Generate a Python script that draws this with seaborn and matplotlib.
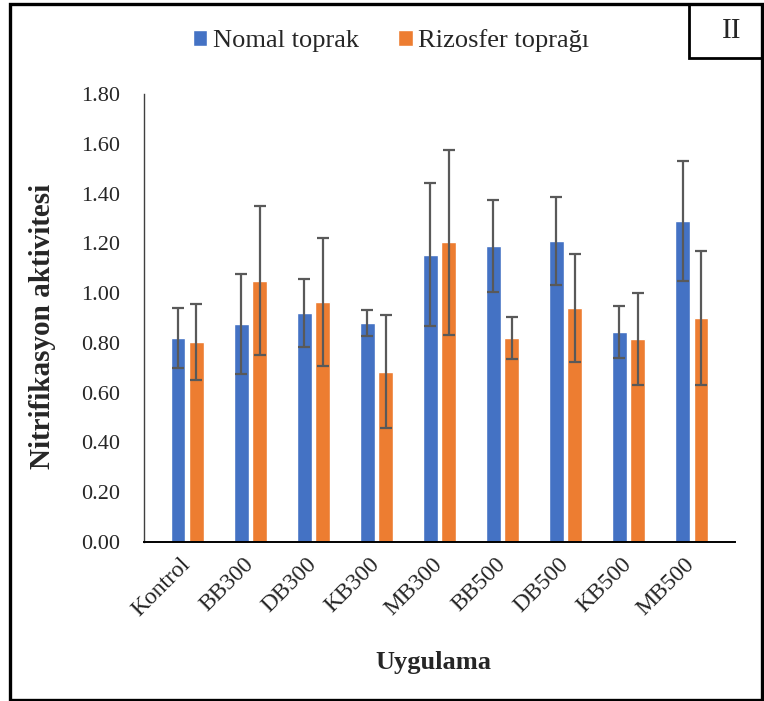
import matplotlib
matplotlib.use("Agg")
import matplotlib.pyplot as plt
from matplotlib.patches import Rectangle
from matplotlib.ticker import FormatStrFormatter
import pandas as pd
import seaborn as sns

# Treatments and soil types
uygulama = ["Kontrol", "BB300", "DB300", "KB300", "MB300",
            "BB500", "DB500", "KB500", "MB500"]
toprak = ["Nomal toprak", "Rizosfer toprağı"]

# Mean nitrification activity per treatment
nomal_mean = [0.82, 0.875, 0.92, 0.88, 1.155, 1.19, 1.21, 0.845, 1.29]
rizo_mean = [0.805, 1.05, 0.965, 0.685, 1.205, 0.82, 0.94, 0.815, 0.90]

# Standard deviations
nomal_sd = [0.12, 0.20, 0.135, 0.052, 0.287, 0.184, 0.177, 0.105, 0.24]
rizo_sd = [0.153, 0.30, 0.257, 0.227, 0.372, 0.085, 0.218, 0.184, 0.27]

y_ticks = [0.0, 0.2, 0.4, 0.6, 0.8, 1.0, 1.2, 1.4, 1.6, 1.8]

df = pd.DataFrame({
    "Uygulama": uygulama * 2,
    "Toprak": [toprak[0]] * len(uygulama) + [toprak[1]] * len(uygulama),
    "Aktivite": nomal_mean + rizo_mean,
})
sd_by_soil = {toprak[0]: nomal_sd, toprak[1]: rizo_sd}

sns.set_theme(style="white")
plt.rcParams["font.family"] = ["Liberation Serif", "DejaVu Serif"]

W, H = 764, 701
fig = plt.figure(figsize=(W / 100, H / 100), dpi=100)
ax = fig.add_axes([144 / W, 1 - 542 / H, (735 - 144) / W, (542 - 94) / H])

palette = {toprak[0]: "#4472C4", toprak[1]: "#ED7D31"}
sns.barplot(data=df, x="Uygulama", y="Aktivite", hue="Toprak",
            order=uygulama, hue_order=toprak, palette=palette,
            width=0.58, gap=0.2, errorbar=None, saturation=1,
            ax=ax)

# Error bars at each bar centre
for soil, container in zip(toprak, ax.containers):
    xs = [p.get_x() + p.get_width() / 2 for p in container.patches]
    hs = [p.get_height() for p in container.patches]
    ax.errorbar(xs, hs, yerr=sd_by_soil[soil], fmt="none",
                ecolor="#595959", elinewidth=1.6, capsize=4.3,
                capthick=1.6, zorder=5)

ax.set_ylim(0, 1.8)
ax.set_yticks(y_ticks)
ax.yaxis.set_major_formatter(FormatStrFormatter("%.2f"))
ax.tick_params(axis="y", length=0, pad=17, labelsize=16)
ax.tick_params(axis="x", length=0, pad=14, labelsize=17)
for lab in ax.get_xticklabels():
    lab.set_rotation(45)
    lab.set_ha("right")
    lab.set_va("center")
    lab.set_rotation_mode("anchor")

for side in ["top", "right"]:
    ax.spines[side].set_visible(False)
ax.spines["left"].set_color("#404040")
ax.spines["left"].set_linewidth(1.0)
ax.spines["bottom"].set_color("black")
ax.spines["bottom"].set_linewidth(1.4)
ax.grid(False)

ax.set_ylabel("Nitrifikasyon aktivitesi", fontsize=21, fontweight="bold")
ax.yaxis.set_label_coords((42.5 - 144) / 591, (542 - 326) / 448)
ax.yaxis.label.set_verticalalignment("center")
ax.set_xlabel("Uygulama", fontsize=19, fontweight="bold")
ax.xaxis.set_label_coords((433 - 144) / 591, (542 - 662) / 448)
ax.xaxis.label.set_verticalalignment("center")

sns.move_legend(ax, "center", bbox_to_anchor=(391 / W, 1 - 41 / H),
                bbox_transform=fig.transFigure, ncol=2, frameon=False,
                title=None, fontsize=19, handlelength=0.55,
                handleheight=0.55, handletextpad=0.2, columnspacing=1.5)

# Outer frame and panel tag box
fig.add_artist(Rectangle((10 / W, 1 - 699.5 / H), (761.5 - 10) / W,
                         (699.5 - 3.5) / H, transform=fig.transFigure,
                         fill=False, edgecolor="black", linewidth=2.4))
fig.add_artist(Rectangle((689 / W, 1 - 58 / H), (761.5 - 689) / W,
                         (58 - 3.5) / H, transform=fig.transFigure,
                         fill=False, edgecolor="black", linewidth=2.0))
fig.text(732 / W, 1 - 31 / H, "II", ha="center", va="center", fontsize=21)

fig.savefig("out.png", dpi=100, facecolor="white")
